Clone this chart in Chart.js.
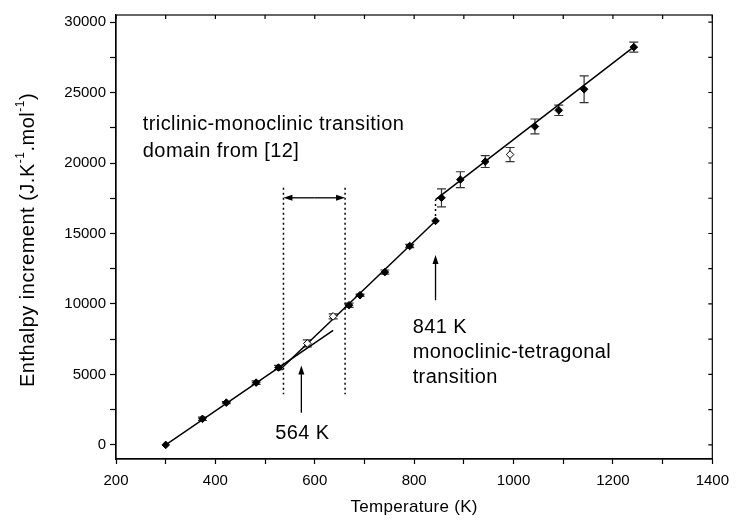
<!DOCTYPE html>
<html>
<head>
<meta charset="utf-8">
<script src="https://cdn.jsdelivr.net/npm/chart.js@4"></script>
<style>
  body { margin: 0; background: #fff; }
  #wrap { width: 737px; height: 530px; }
</style>
</head>
<body>
<div id="wrap"><canvas id="enthalpy_chart" width="737" height="530"></canvas></div>
<script>
// measured points (filled diamonds)
const temperature = [300, 374, 422, 482, 527, 669, 691, 741, 791, 843, 855, 893, 943, 1043, 1091, 1142, 1242];
const enthalpy = [0, 1850, 3000, 4420, 5490, 9910, 10620, 12260, 14110, 15890, 17530, 18820, 20100, 22590, 23740, 25230, 28220];
const enthalpyErr = [0, 120, 80, 120, 150, 150, 80, 150, 120, 0, 640, 560, 420, 530, 370, 950, 350];

// open diamonds
const openTemperature = [585, 637, 993];
const openEnthalpy = [7200, 9120, 20600];
const openErr = [250, 180, 500];

// fitted lines
const fitLowT = [300, 637];
const fitLowH = [0, 8130];
const fitMidT = [529, 843];
const fitMidH = [5300, 15890];
const jumpT = [843, 843];
const jumpH = [15890, 17400];
const fitHighT = [843, 1246];
const fitHighH = [17400, 28350];

// annotations (data units)
const domainT = [537, 661];
const domainH = [3600, 18250];
const domainArrowH = 17530;
const arrow564 = [573, 2280, 5630];
const arrow841 = [843, 10260, 13470];

const xTicks = [200, 400, 600, 800, 1000, 1200, 1400];
const xMinor = [200, 300, 400, 500, 600, 700, 800, 900, 1000, 1100, 1200, 1300, 1400];
const yTicks = [0, 5000, 10000, 15000, 20000, 25000, 30000];
const yMinor = [0, 2500, 5000, 7500, 10000, 12500, 15000, 17500, 20000, 22500, 25000, 27500, 30000];

const pts = (xs, ys) => xs.map((x, i) => ({ x: x, y: ys[i] }));
const FONT = '"Liberation Sans", Arial, sans-serif';

function arrow(ctx, x1, y1, x2, y2) {
  const a = Math.atan2(y2 - y1, x2 - x1);
  ctx.beginPath();
  ctx.moveTo(x1, y1);
  ctx.lineTo(x2 - 6 * Math.cos(a), y2 - 6 * Math.sin(a));
  ctx.stroke();
  ctx.beginPath();
  ctx.moveTo(x2, y2);
  ctx.lineTo(x2 - 9 * Math.cos(a) + 3 * Math.sin(a), y2 - 9 * Math.sin(a) - 3 * Math.cos(a));
  ctx.lineTo(x2 - 9 * Math.cos(a) - 3 * Math.sin(a), y2 - 9 * Math.sin(a) + 3 * Math.cos(a));
  ctx.closePath();
  ctx.fill();
}

const extras = {
  id: 'extras',
  beforeDatasetsDraw(chart) {
    const ctx = chart.ctx, xs = chart.scales.x, ys = chart.scales.y;
    ctx.save();
    ctx.strokeStyle = '#333';
    ctx.lineWidth = 1.2;
    const bars = (T, H, E) => T.forEach((t, i) => {
      if (!E[i]) return;
      const px = xs.getPixelForValue(t);
      const top = ys.getPixelForValue(H[i] + E[i]);
      const bot = ys.getPixelForValue(H[i] - E[i]);
      ctx.beginPath();
      ctx.moveTo(px, top); ctx.lineTo(px, bot);
      ctx.moveTo(px - 4.5, top); ctx.lineTo(px + 4.5, top);
      ctx.moveTo(px - 4.5, bot); ctx.lineTo(px + 4.5, bot);
      ctx.stroke();
    });
    bars(temperature, enthalpy, enthalpyErr);
    bars(openTemperature, openEnthalpy, openErr);
    ctx.restore();
  },
  afterDraw(chart) {
    const ctx = chart.ctx, xs = chart.scales.x, ys = chart.scales.y, ca = chart.chartArea;
    ctx.save();
    // frame and inner ticks on top/right
    ctx.strokeStyle = '#000';
    ctx.lineWidth = 1.2;
    ctx.strokeRect(ca.left, ca.top, ca.right - ca.left, ca.bottom - ca.top);
    ctx.beginPath();
    xMinor.forEach(t => {
      const px = xs.getPixelForValue(t);
      ctx.moveTo(px, ca.top); ctx.lineTo(px, ca.top + 4);
    });
    yMinor.forEach(h => {
      const py = ys.getPixelForValue(h);
      ctx.moveTo(ca.right, py); ctx.lineTo(ca.right - 4, py);
    });
    ctx.stroke();

    // dotted domain lines + double arrow
    ctx.lineWidth = 1.5;
    ctx.setLineDash([2, 3]);
    domainT.forEach(t => {
      const px = xs.getPixelForValue(t);
      ctx.beginPath();
      ctx.moveTo(px, ys.getPixelForValue(domainH[1]));
      ctx.lineTo(px, ys.getPixelForValue(domainH[0]));
      ctx.stroke();
    });
    ctx.setLineDash([]);
    ctx.fillStyle = '#000';
    ctx.lineWidth = 1.3;
    const ay = ys.getPixelForValue(domainArrowH);
    const ax1 = xs.getPixelForValue(domainT[0]), ax2 = xs.getPixelForValue(domainT[1]);
    const mid = (ax1 + ax2) / 2;
    arrow(ctx, mid, ay, ax1, ay);
    arrow(ctx, mid, ay, ax2, ay);

    [arrow564, arrow841].forEach(a => {
      const px = xs.getPixelForValue(a[0]);
      arrow(ctx, px, ys.getPixelForValue(a[1]), px, ys.getPixelForValue(a[2]));
    });

    // annotation text
    ctx.font = '20px ' + FONT;
    ctx.letterSpacing = '0.4px';
    ctx.textBaseline = 'middle';
    ctx.textAlign = 'left';
    const tx = (t, h, s) => ctx.fillText(s, xs.getPixelForValue(t), ys.getPixelForValue(h));
    tx(254, 22740, 'triclinic-monoclinic transition');
    tx(254, 20810, 'domain from [12]');
    tx(797, 8340, '841 K');
    tx(797, 6560, 'monoclinic-tetragonal');
    tx(797, 4775, 'transition');
    ctx.textAlign = 'center';
    tx(575, 785, '564 K');

    // axis titles
    ctx.font = '17px ' + FONT;
    ctx.letterSpacing = '0.3px';
    ctx.fillText('Temperature (K)', (ca.left + ca.right) / 2, 507);

    ctx.translate(28, (ca.top + ca.bottom) / 2 + 3);
    ctx.rotate(-Math.PI / 2);
    ctx.letterSpacing = '0.5px';
    const big = '20px ' + FONT;
    const small = '12px ' + FONT;
    const parts = [['Enthalpy increment (J.K', big, 0], ['-1', small, -7], ['.mol', big, 0], ['-1', small, -7], [')', big, 0]];
    let total = 0;
    parts.forEach(p => { ctx.font = p[1]; total += ctx.measureText(p[0]).width; });
    let cx = -total / 2;
    ctx.textAlign = 'left';
    parts.forEach(p => {
      ctx.font = p[1];
      ctx.fillText(p[0], cx, p[2]);
      cx += ctx.measureText(p[0]).width;
    });
    ctx.restore();
  }
};

const lineDs = (T, H, dash) => ({
  data: pts(T, H),
  borderColor: '#000',
  borderWidth: 1.5,
  borderDash: dash || [],
  pointRadius: 0,
  showLine: true,
  fill: false
});

new Chart('enthalpy_chart', {
  type: 'scatter',
  data: {
    datasets: [
      {
        data: pts(temperature, enthalpy),
        pointStyle: 'rectRot',
        pointRadius: 3.8,
        backgroundColor: '#000',
        borderColor: '#000',
        borderWidth: 1
      },
      {
        data: pts(openTemperature, openEnthalpy),
        pointStyle: 'rectRot',
        pointRadius: 3.8,
        backgroundColor: '#fff',
        borderColor: '#000',
        borderWidth: 1
      },
      lineDs(fitLowT, fitLowH),
      lineDs(fitMidT, fitMidH),
      lineDs(jumpT, jumpH, [2, 3]),
      lineDs(fitHighT, fitHighH)
    ]
  },
  options: {
    responsive: false,
    animation: false,
    layout: { padding: { top: 15, right: 22, left: 0, bottom: 0 } },
    plugins: { legend: { display: false }, tooltip: { enabled: false } },
    scales: {
      x: {
        min: 200, max: 1400,
        afterFit: s => { s.height = 71; },
        afterBuildTicks: s => { s.ticks = xMinor.map(v => ({ value: v })); },
        ticks: {
          autoSkip: false,
          maxRotation: 0,
          padding: 8,
          color: '#000',
          font: { family: FONT, size: 15 },
          callback: v => xTicks.includes(v) ? String(v) : ''
        },
        grid: { drawOnChartArea: false, tickLength: 5, tickColor: '#000', tickWidth: 1.2 },
        border: { color: '#000', width: 1.2 }
      },
      y: {
        min: -1000, max: 30500,
        afterFit: s => { s.width = 116; },
        afterBuildTicks: s => { s.ticks = yMinor.map(v => ({ value: v })); },
        ticks: {
          autoSkip: false,
          color: '#000',
          padding: 4,
          font: { family: FONT, size: 15 },
          callback: v => yTicks.includes(v) ? String(v) : ''
        },
        grid: { drawOnChartArea: false, tickLength: 6, tickColor: '#000', tickWidth: 1.2 },
        border: { color: '#000', width: 1.2 }
      }
    }
  },
  plugins: [extras]
});
</script>
</body>
</html>
